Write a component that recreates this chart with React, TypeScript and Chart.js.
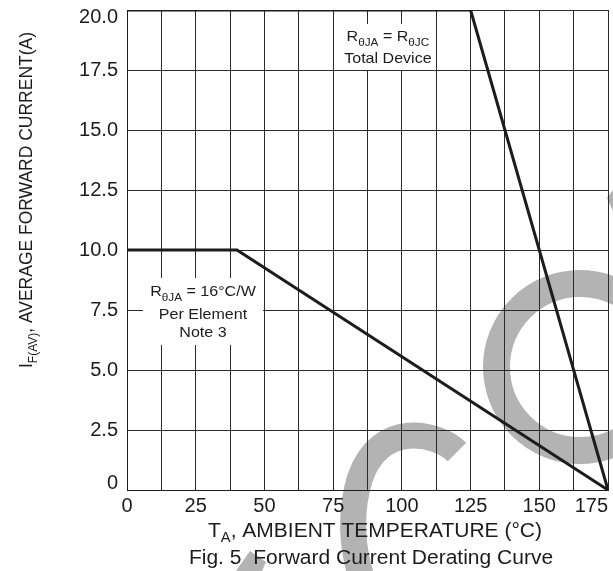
import React, { useEffect, useRef } from 'react';
import { Chart, registerables } from 'chart.js';

Chart.register(...registerables);

// ---------- data ----------
const totalDeviceTemp = [0, 125, 175];
const totalDeviceCurrent = [20, 20, 0];
const perElementTemp = [0, 40, 175];
const perElementCurrent = [10, 10, 0];

const xTickLabels = ['0', '25', '50', '75', '100', '125', '150', '175'];
const yTickLabels = ['0', '2.5', '5.0', '7.5', '10.0', '12.5', '15.0', '17.5', '20.0'];

type Seg = { t: string; sub?: boolean };

const xTitle: Seg[] = [{ t: 'T' }, { t: 'A', sub: true }, { t: ', AMBIENT TEMPERATURE (°C)' }];
const yTitle: Seg[] = [{ t: 'I' }, { t: 'F(AV)', sub: true }, { t: ', AVERAGE FORWARD CURRENT(A)' }];
const captionText: Seg[] = [{ t: 'Fig. 5  Forward Current Derating Curve' }];

const noteTotalLines: Seg[][] = [
  [{ t: 'R' }, { t: 'θJA', sub: true }, { t: ' = R' }, { t: 'θJC', sub: true }],
  [{ t: 'Total Device' }],
];
const notePerElementLines: Seg[][] = [
  [{ t: 'R' }, { t: 'θJA', sub: true }, { t: ' = 16°C/W' }],
  [{ t: 'Per Element' }],
  [{ t: 'Note 3' }],
];
// note anchors in data units (temperature, current)
const noteTotalAt = [94.2, 18.46];
const notePerElementAt = [27.65, 7.44];

// ---------- style ----------
const FONT = "'Liberation Sans', Arial, Helvetica, sans-serif";
const INK = '#1c1c1c';
const GRID = '#2a2a2a';
const WATERMARK = '#b3b3b3';

function drawRich(
  ctx: CanvasRenderingContext2D,
  segs: Seg[],
  size: number,
  subSize: number,
  subDrop: number,
  stretch: number,
  targetLength?: number
) {
  const widths = segs.map((s) => {
    ctx.font = `${s.sub ? subSize : size}px ${FONT}`;
    return ctx.measureText(s.t).width;
  });
  const total = widths.reduce((a, b) => a + b, 0);
  const k = targetLength ? targetLength / total : stretch;
  ctx.save();
  ctx.scale(k, 1);
  ctx.textAlign = 'left';
  ctx.textBaseline = 'alphabetic';
  ctx.fillStyle = INK;
  let x = -total / 2;
  segs.forEach((s, i) => {
    ctx.font = `${s.sub ? subSize : size}px ${FONT}`;
    ctx.fillText(s.t, x, s.sub ? subDrop : 0);
    x += widths[i];
  });
  ctx.restore();
}

function drawWatermark(ctx: CanvasRenderingContext2D) {
  ctx.save();
  ctx.strokeStyle = WATERMARK;
  ctx.fillStyle = WATERMARK;
  ctx.lineCap = 'butt';
  // right ring
  ctx.lineWidth = 27;
  ctx.beginPath();
  ctx.arc(580, 367, 83.5, 0, Math.PI * 2);
  ctx.stroke();
  // lower bowl
  ctx.lineWidth = 26;
  ctx.beginPath();
  ctx.moveTo(457, 452);
  ctx.bezierCurveTo(437, 432, 380, 420, 360, 478);
  ctx.bezierCurveTo(350, 510, 350, 550, 366, 590);
  ctx.stroke();
  // small fragments
  ctx.beginPath();
  ctx.moveTo(613, 190);
  ctx.lineTo(607, 198);
  ctx.lineTo(613, 211);
  ctx.closePath();
  ctx.fill();
  ctx.beginPath();
  ctx.moveTo(236, 571);
  ctx.lineTo(250, 551);
  ctx.lineTo(266, 562);
  ctx.lineTo(262, 571);
  ctx.closePath();
  ctx.fill();
  ctx.restore();
}

function drawNote(
  chart: any,
  at: number[],
  lines: Seg[][],
  boxW: number,
  boxH: number,
  baselines: number[],
  dx: number
) {
  const ctx: CanvasRenderingContext2D = chart.ctx;
  const cx = chart.scales.x.getPixelForValue(at[0]);
  const cy = chart.scales.y.getPixelForValue(at[1]);
  ctx.save();
  ctx.fillStyle = '#ffffff';
  ctx.fillRect(cx - boxW / 2, cy - boxH / 2, boxW, boxH);
  lines.forEach((segs, i) => {
    ctx.save();
    ctx.translate(cx + dx, cy + baselines[i]);
    drawRich(ctx, segs, 15, 11, 5, 1.07);
    ctx.restore();
  });
  ctx.restore();
}

const decorPlugin = {
  id: 'decor',
  beforeDraw(chart: any) {
    const ctx: CanvasRenderingContext2D = chart.ctx;
    ctx.save();
    ctx.fillStyle = '#ffffff';
    ctx.fillRect(0, 0, chart.width, chart.height);
    drawWatermark(ctx);
    ctx.restore();
  },
  beforeDatasetsDraw(chart: any) {
    drawNote(chart, noteTotalAt, noteTotalLines, 100, 46, [-6.3, 16.3], 2);
    drawNote(chart, notePerElementAt, notePerElementLines, 120, 67, [-15.5, 7.5, 25.5], 0);
  },
  afterDraw(chart: any) {
    const ctx: CanvasRenderingContext2D = chart.ctx;
    ctx.save();
    ctx.translate(375, 537);
    drawRich(ctx, xTitle, 20, 14, 5, 1.05);
    ctx.restore();

    ctx.save();
    ctx.translate(371, 564);
    drawRich(ctx, captionText, 20, 14, 5, 1.05);
    ctx.restore();

    ctx.save();
    ctx.translate(32, 200);
    ctx.rotate(-Math.PI / 2);
    drawRich(ctx, yTitle, 19, 13, 5, 1, 336);
    ctx.restore();
  },
};

export default function App() {
  const ref = useRef<HTMLCanvasElement>(null);

  useEffect(() => {
    const canvas = ref.current;
    if (!canvas) return;
    const tickFont = { family: FONT, size: 20 };
    const lastY = yTickLabels.length - 1;
    const chart = new Chart(canvas, {
      type: 'line',
      data: {
        datasets: [
          {
            label: 'Total Device',
            data: totalDeviceTemp.map((t, i) => ({ x: t, y: totalDeviceCurrent[i] })),
            borderColor: INK,
            borderWidth: 3,
            pointRadius: 0,
            tension: 0,
            fill: false,
          },
          {
            label: 'Per Element',
            data: perElementTemp.map((t, i) => ({ x: t, y: perElementCurrent[i] })),
            borderColor: INK,
            borderWidth: 3,
            pointRadius: 0,
            tension: 0,
            fill: false,
          },
        ],
      },
      options: {
        animation: false,
        responsive: false,
        devicePixelRatio: 1,
        layout: { padding: { top: 10, right: 5, left: 0, bottom: 0 } },
        plugins: {
          legend: { display: false },
          tooltip: { enabled: false },
          title: { display: false },
        },
        scales: {
          x: {
            type: 'linear',
            min: 0,
            max: 175,
            afterFit: (s: any) => {
              s.height = 81;
              s.paddingLeft = 0;
              s.paddingRight = 0;
            },
            grid: { color: GRID, lineWidth: 1, drawTicks: false },
            border: { color: INK, width: 1 },
            ticks: {
              stepSize: 12.5,
              autoSkip: false,
              maxRotation: 0,
              minRotation: 0,
              padding: 4,
              color: INK,
              font: tickFont,
              callback: (v: any) => {
                const i = Number(v) / 25;
                if (!Number.isInteger(i)) return '';
                const s = xTickLabels[i];
                return i === xTickLabels.length - 1 ? s + '      ' : s;
              },
            },
            title: { display: false },
          },
          y: {
            type: 'linear',
            min: 0,
            max: 20,
            afterFit: (s: any) => {
              s.width = 127;
              s.paddingTop = 0;
              s.paddingBottom = 0;
            },
            grid: { color: GRID, lineWidth: 1, drawTicks: false },
            border: { color: INK, width: 1 },
            ticks: {
              stepSize: 2.5,
              autoSkip: false,
              padding: 9,
              color: INK,
              font: (c: any) =>
                c.tick && (c.tick.value === 0 || c.tick.value === 20)
                  ? { family: FONT, size: 20, lineHeight: 0.7 }
                  : { family: FONT, size: 20 },
              callback: (v: any) => {
                const i = Math.round(Number(v) / 2.5);
                const s = yTickLabels[i];
                if (i === 0) return [s, ''];
                if (i === lastY) return ['', s];
                return s;
              },
            },
            title: { display: false },
          },
        },
      },
      plugins: [decorPlugin],
    } as any);
    return () => chart.destroy();
  }, []);

  return (
    <div style={{ position: 'absolute', left: 0, top: 0, width: 613, height: 571, background: '#fff' }}>
      <canvas ref={ref} width={613} height={571} style={{ display: 'block', width: 613, height: 571 }} />
    </div>
  );
}
